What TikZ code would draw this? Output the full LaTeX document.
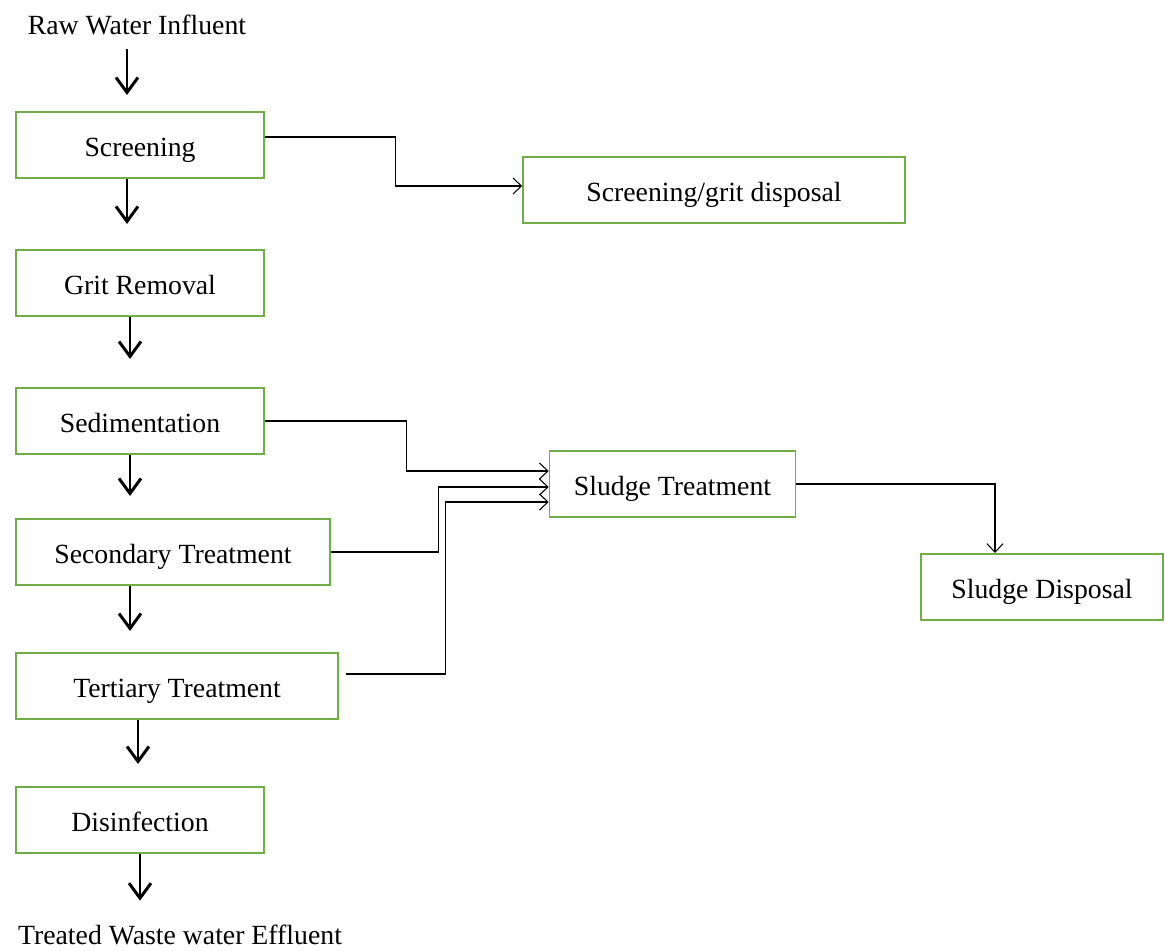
\documentclass[tikz,border=0pt]{standalone}
\usepackage{fontspec}
\setmainfont{Liberation Serif}
\usetikzlibrary{arrows.meta, calc}

\definecolor{boxgreen}{RGB}{112,173,71}

\begin{document}
\begin{tikzpicture}[x=0.02cm, y=-0.02cm,
	every node/.style={font=\fontsize{15.8}{19}\selectfont, inner sep=0pt},
	box/.style={rectangle, draw=boxgreen, line width=0.9pt, minimum height=1.33cm, text height=17pt, text depth=3.4pt},
	flow/.style={draw=black, line width=1.7pt, -{Straight Barb[length=0.3cm, width=0.44cm]}},
	link/.style={draw=black, line width=0.6pt, -{Straight Barb[length=0.17cm, width=0.32cm]}}]
			\useasboundingbox (0,0) rectangle (1165,950);
			\node (raw) at (137,25){Raw Water Influent};
			\node[box, minimum width=4.96cm] (screen) at (140,145){Screening};
			\node[box, minimum width=4.96cm] (grit) at (140,283){Grit Removal};
			\node[box, minimum width=4.96cm] (sedi) at (140,421){Sedimentation};
			\node[box, minimum width=6.28cm] (second) at (173,552){Secondary Treatment};
			\node[box, minimum width=6.44cm] (tert) at (177,686){Tertiary Treatment};
			\node[box, minimum width=4.96cm] (disinf) at (140,820){Disinfection};
			\node (effl) at (180,935){Treated Waste water Effluent};
			
			\node[box, minimum width=7.64cm] (gritdisp) at (714,190){Screening/grit disposal};
			\node[box, minimum width=4.92cm] (sludge) at (672.5,484){Sludge Treatment};
			\node[box, minimum width=4.84cm] (sludgedisp) at (1042,587){Sludge Disposal};
			
			\path[flow] ($(raw.south)+(-10,14)$) -- ($(raw.south |- screen.north)+(-10,-16)$);
			\path[flow] ($(screen.south)+(-13,0)$) -- ($(screen.south |- grit.north)+(-13,-25)$);
			\path[flow] ($(grit.south)+(-10,0)$) -- ($(grit.south |- sedi.north)+(-10,-28)$);
			\path[flow] ($(sedi.south)+(-10,0)$) -- ($(sedi.south |- second.north)+(-10,-22)$);
			\path[flow] ($(second.south)+(-43,0)$) -- ($(second.south |- tert.north)+(-43,-21)$);
			\path[flow] ($(tert.south)+(-39,0)$) -- ($(tert.south |- disinf.north)+(-39,-22)$);
			\path[flow] (disinf.south) -- ($(disinf.south |- effl.north)+(0,-24)$);
			
			\path[link] ([yshift=0.16cm]screen.east) -- ++(131,0) |- ([yshift=0.08cm]gritdisp.west);
			\path[link] (sedi.east) -- ++(142,0) |- ([yshift=0.26cm]sludge.west);
			\path[link] (second.east) -- ++(108,0) |- ([yshift=-0.06cm]sludge.west);
			\path[link] ([xshift=0.14cm, yshift=0.24cm]tert.east) -- ++(100,0) |- ([yshift=-0.36cm]sludge.west);
			\path[link] (sludge.east) -| ($(sludgedisp.north)+(-47,0)$);
\end{tikzpicture}
\end{document}
